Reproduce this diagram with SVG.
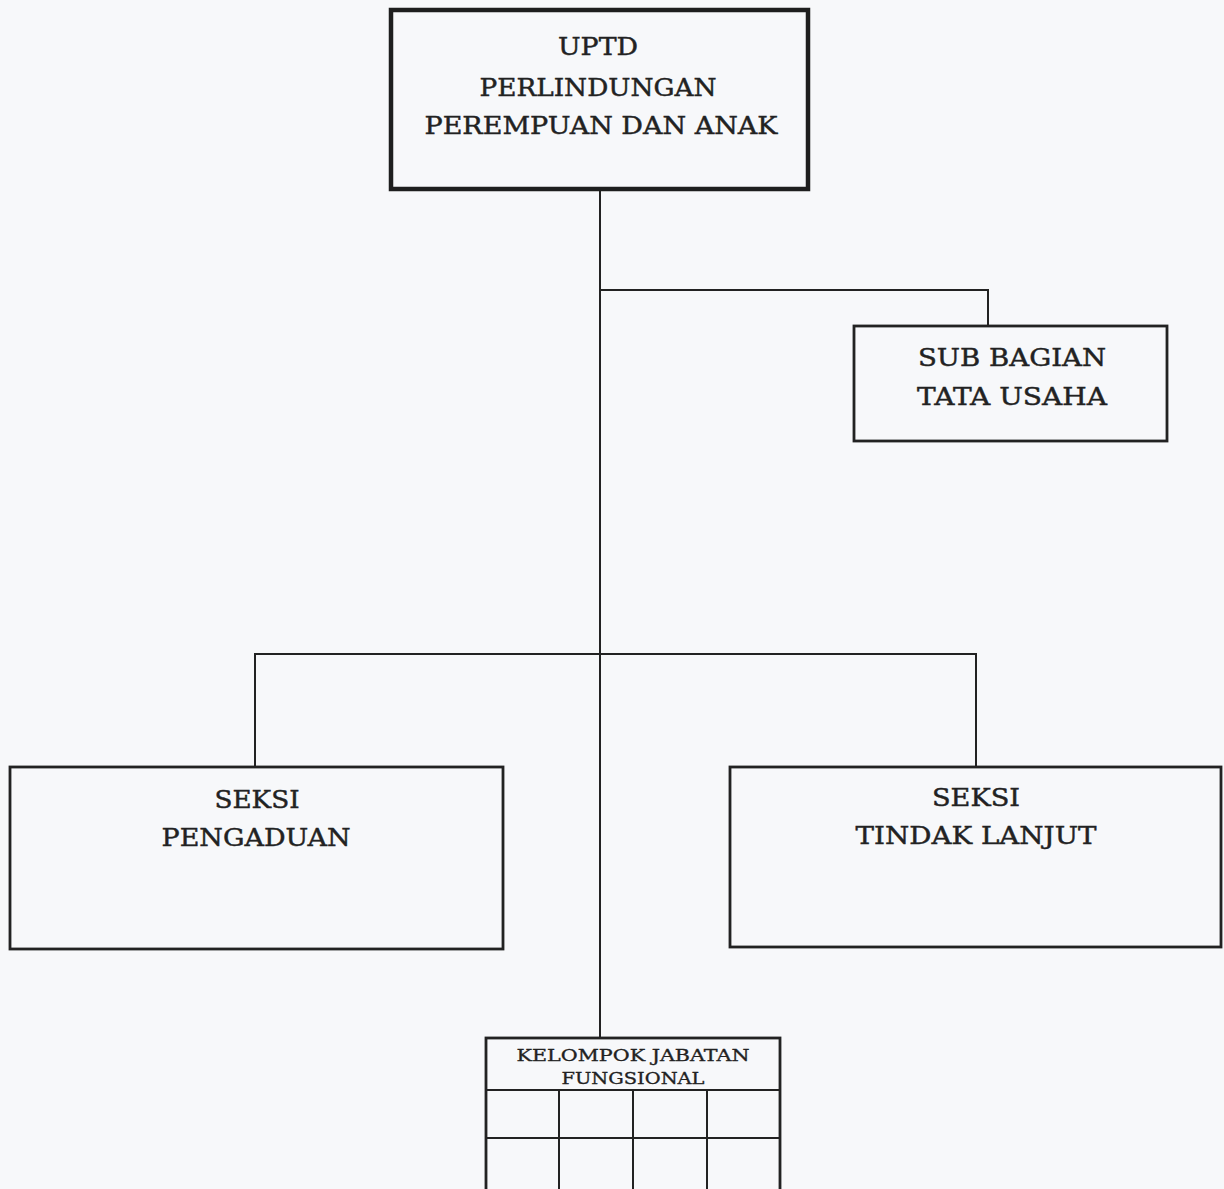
<svg xmlns="http://www.w3.org/2000/svg" width="1224" height="1189" viewBox="0 0 1224 1189">
<style>
text{font-family:"DejaVu Serif","Liberation Serif",serif;fill:#222;stroke:#222;stroke-width:0.45;text-anchor:middle}
.lg{font-size:25px}
.sm{font-size:17px;stroke-width:0.35}
.box{fill:none;stroke:#222;stroke-width:2.8}
.main{fill:none;stroke:#1e1e1e;stroke-width:4.5}
.con line{stroke:#222;stroke-width:2}
.grid line{stroke:#222;stroke-width:2}
</style>
<rect width="1224" height="1189" fill="#f7f8fa"/>
<g id="connectors" class="con">
<line x1="600" y1="190" x2="600" y2="1038"/>
<line x1="599" y1="290" x2="989" y2="290"/>
<line x1="988" y1="289" x2="988" y2="326"/>
<line x1="254" y1="654" x2="977" y2="654"/>
<line x1="255" y1="653" x2="255" y2="767"/>
<line x1="976" y1="653" x2="976" y2="767"/>
</g>
<g id="uptd">
<rect class="main" x="391" y="10" width="417" height="179"/>
<text class="lg" x="598" y="55" textLength="80" lengthAdjust="spacingAndGlyphs">UPTD</text>
<text class="lg" x="598" y="96" textLength="237" lengthAdjust="spacingAndGlyphs">PERLINDUNGAN</text>
<text class="lg" x="601" y="134" textLength="353" lengthAdjust="spacingAndGlyphs">PEREMPUAN DAN ANAK</text>
</g>
<g id="subbagian">
<rect class="box" x="854" y="326" width="313" height="115"/>
<text class="lg" x="1012" y="366" textLength="188" lengthAdjust="spacingAndGlyphs">SUB BAGIAN</text>
<text class="lg" x="1012" y="405" textLength="190" lengthAdjust="spacingAndGlyphs">TATA USAHA</text>
</g>
<g id="seksi-pengaduan">
<rect class="box" x="10" y="767" width="493" height="182"/>
<text class="lg" x="257" y="808" textLength="85" lengthAdjust="spacingAndGlyphs">SEKSI</text>
<text class="lg" x="256" y="846" textLength="189" lengthAdjust="spacingAndGlyphs">PENGADUAN</text>
</g>
<g id="seksi-tindak-lanjut">
<rect class="box" x="730" y="767" width="491" height="180"/>
<text class="lg" x="976" y="806" textLength="88" lengthAdjust="spacingAndGlyphs">SEKSI</text>
<text class="lg" x="976" y="844" textLength="241" lengthAdjust="spacingAndGlyphs">TINDAK LANJUT</text>
</g>
<g id="kelompok-jabatan-fungsional" class="grid">
<rect class="box" x="486" y="1038" width="294" height="160"/>
<line x1="486" y1="1090" x2="780" y2="1090"/>
<line x1="486" y1="1138" x2="780" y2="1138"/>
<line x1="559" y1="1090" x2="559" y2="1189"/>
<line x1="633" y1="1090" x2="633" y2="1189"/>
<line x1="707" y1="1090" x2="707" y2="1189"/>
<text class="sm" x="633" y="1061" textLength="233" lengthAdjust="spacingAndGlyphs">KELOMPOK JABATAN</text>
<text class="sm" x="633" y="1084" textLength="143" lengthAdjust="spacingAndGlyphs">FUNGSIONAL</text>
</g>
</svg>
